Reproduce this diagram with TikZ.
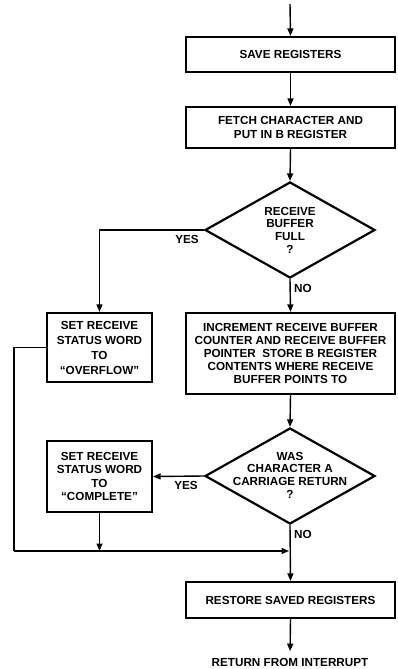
\documentclass[tikz,border=0pt]{standalone}
\usepackage{fontspec}
\setmainfont{Liberation Sans}
\usetikzlibrary{arrows.meta,shapes.geometric}
\begin{document}
\begin{tikzpicture}[x=1pt,y=-1pt,
  font=\fontsize{11.7}{13.5}\selectfont\bfseries,
  box/.style={draw,line width=2.2pt,rectangle,inner sep=0pt,align=center},
  dia/.style={draw,line width=2.2pt,diamond,inner sep=0pt,minimum width=170pt,minimum height=96pt},
  diatext/.style={inner sep=0pt,align=center,font=\fontsize{11.7}{12.7}\selectfont\bfseries},
  conn/.style={line width=1.4pt,-{Triangle[length=7.5pt,width=6pt]}},
  plain/.style={line width=1.4pt},
  lbl/.style={inner sep=0pt}]
\useasboundingbox (0,0) rectangle (397,669);

\coordinate (start) at (290,4);
\node[box,minimum width=209pt,minimum height=35pt] (save) at (290.5,54.5) {SAVE REGISTERS};
\node[box,minimum width=209pt,minimum height=41pt,font=\fontsize{11.7}{14.5}\selectfont\bfseries] (fetch) at (290.5,127.5) {FETCH CHARACTER AND\\PUT IN B REGISTER};
\node[dia] (d1) at (290,230) {};
\node[diatext] (d1t) at (290,230) {RECEIVE\\BUFFER\\FULL\\?};
\node[box,minimum width=105pt,minimum height=69pt,font=\fontsize{11.7}{15}\selectfont\bfseries] (over) at (99.5,347.5) {SET RECEIVE\\STATUS WORD\\TO\\“OVERFLOW”};
\node[box,minimum width=209pt,minimum height=81pt,font=\fontsize{11.7}{13}\selectfont\bfseries] (incr) at (290.5,353.5) {INCREMENT RECEIVE BUFFER\\COUNTER AND RECEIVE BUFFER\\POINTER\ \ STORE B REGISTER\\CONTENTS WHERE RECEIVE\\BUFFER POINTS TO};
\node[dia] (d2) at (290,476) {};
\node[diatext] (d2t) at (290,475) {WAS\\CHARACTER A\\CARRIAGE RETURN\\?};
\node[box,minimum width=105pt,minimum height=71pt,font=\fontsize{11.7}{13.3}\selectfont\bfseries] (comp) at (99.5,476.5) {SET RECEIVE\\STATUS WORD\\TO\\“COMPLETE”};
\coordinate (merge) at (290,551);
\coordinate (lefttop) at (14,347.5);
\coordinate (leftbot) at (14,551);
\node[box,minimum width=209pt,minimum height=36pt] (rest) at (290.5,600) {RESTORE SAVED REGISTERS};
\node[lbl,anchor=base] (ret) at (290,666.5) {RETURN FROM INTERRUPT};

\node[lbl] (yes1) at (187,239) {YES};
\node[lbl] (no1) at (303,288) {NO};
\node[lbl] (yes2) at (186,485) {YES};
\node[lbl] (no2) at (303,534) {NO};

\draw[conn] (start) -- (save.north);
\draw[conn] (save.south) -- (fetch.north);
\draw[conn] (fetch.south) -- (d1.north);
\draw[conn] (d1.west) -| (over.north);
\draw[conn] (d1.south) -- (incr.north);
\draw[conn] (incr.south) -- (d2.north);
\draw[conn] (d2.west) -- (comp.east);
\draw[plain] (over.west) -- (lefttop) -- (leftbot);
\draw[conn,shorten >=1pt] (leftbot) -- (merge);
\draw[conn] (comp.south) -- (comp.south |- merge);
\draw[conn] (d2.south) -- (rest.north);
\draw[conn,shorten >=7pt] (rest.south) -- (ret.north);
\end{tikzpicture}
\end{document}
